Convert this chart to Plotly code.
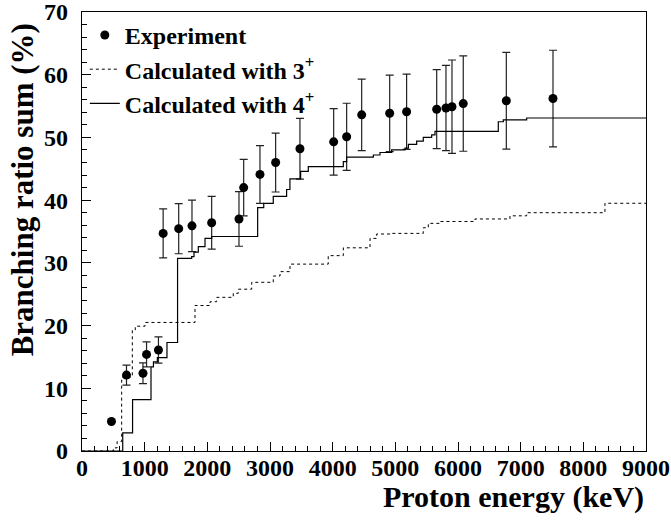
import plotly.graph_objects as go

# Experimental data
exp_energy = [470, 710, 973, 1030, 1220, 1295, 1543, 1755, 2069, 2505, 2580, 2840, 3090,
              3478, 4016, 4223, 4463, 4910, 5180, 5660, 5808, 5904, 6084, 6771, 7516]
exp_ratio = [4.7, 12.1, 12.4, 15.4, 16.1, 34.7, 35.45, 35.9, 36.4, 37.0, 42.0, 44.1, 46.0,
             48.2, 49.3, 50.1, 53.6, 53.85, 54.1, 54.5, 54.7, 54.9, 55.4, 55.85, 56.2]
exp_err = [0, 1.6, 1.65, 2.0, 2.1, 3.9, 4.0, 4.1, 4.2, 4.35, 4.5, 4.6, 4.7,
           4.85, 5.3, 5.35, 5.7, 6.1, 6.0, 6.3, 6.8, 7.45, 7.6, 7.7, 7.7]

# Calculated with 3+ (step edges and levels)
calc3_energy = [0, 500, 560, 633, 803, 850, 1005, 1803, 2043, 2149, 2414, 2494, 2708,
                3052, 3160, 3319, 3929, 4170, 4596, 4702, 4942, 5446, 5526, 5712,
                6271, 6829, 7096, 8345, 9000]
calc3_ratio = [0, 0.5, 1.5, 11.8, 19.3, 19.9, 20.5, 23.2, 23.8, 24.5, 25.15, 25.8, 26.9,
               27.9, 28.6, 29.8, 31.15, 32.4, 33.9, 34.6, 34.7, 35.6, 36.3, 36.6,
               37.0, 37.5, 38.0, 39.5, 39.5]

# Calculated with 4+
calc4_energy = [0, 650, 807, 1101, 1140, 1202, 1356, 1525, 1750, 1787, 1856, 1963, 2069,
                2803, 2900, 3052, 3265, 3318, 3489, 3611, 4170, 4223, 4649, 4755, 4941,
                5154, 5208, 5340, 5446, 5580, 5633, 6643, 6723, 7096, 9000]
calc4_ratio = [0, 2.9, 8.2, 13.4, 14.2, 14.9, 17.3, 30.7, 31.0, 31.7, 32.6, 33.9, 34.2,
               38.8, 39.5, 40.6, 41.7, 43.4, 44.6, 45.35, 46.15, 46.85, 47.2, 47.6, 48.0,
               48.3, 48.9, 49.4, 50.0, 50.4, 50.95, 52.5, 52.8, 53.1, 53.1]

x_ticks = [0, 1000, 2000, 3000, 4000, 5000, 6000, 7000, 8000, 9000]
y_ticks = [0, 10, 20, 30, 40, 50, 60, 70]

FONT = "Liberation Serif"

fig = go.Figure()
fig.add_trace(go.Scatter(
    x=exp_energy, y=exp_ratio, mode="markers", name="Experiment",
    marker=dict(color="black", size=9),
    error_y=dict(type="data", array=exp_err, color="#222222", thickness=1.2, width=4),
))
fig.add_trace(go.Scatter(
    x=calc3_energy, y=calc3_ratio, mode="lines", name="Calculated with 3<sup>+</sup>",
    line=dict(color="black", width=1, dash="3px,3px", shape="hv"),
))
fig.add_trace(go.Scatter(
    x=calc4_energy, y=calc4_ratio, mode="lines", name="Calculated with 4<sup>+</sup>",
    line=dict(color="black", width=1.2, shape="hv"),
))

axis_common = dict(
    showline=True, linecolor="black", linewidth=1.2, mirror=True, automargin=False,
    showgrid=False, zeroline=False, ticks="inside", tickcolor="black",
    ticklabeloverflow="allow",
    tickfont=dict(family=FONT, size=24, color="black", weight="bold"),
)
fig.update_xaxes(
    range=[0, 9000], tickvals=x_ticks, ticktext=[str(v) for v in x_ticks],
    ticklen=9, tickwidth=1, ticklabelstandoff=-5,
    minor=dict(dtick=200, ticks="inside", ticklen=5, tickcolor="black", tickwidth=1),
    **axis_common,
)
fig.update_yaxes(
    range=[0, 70], tickvals=y_ticks, ticktext=[str(v) for v in y_ticks],
    ticklen=9, tickwidth=1, ticklabelstandoff=8,
    minor=dict(dtick=2, ticks="inside", ticklen=5, tickcolor="black", tickwidth=1),
    **axis_common,
)

fig.update_layout(
    width=671, height=523,
    margin=dict(l=82, r=25, t=12, b=72, autoexpand=False),
    paper_bgcolor="white", plot_bgcolor="white",
    showlegend=True,
    legend=dict(x=0.005, y=0.998, xanchor="left", yanchor="top",
                bgcolor="rgba(0,0,0,0)", borderwidth=0,
                font=dict(family=FONT, size=24, color="black", weight="bold")),
    annotations=[
        dict(text="Proton energy (keV)", xref="paper", yref="paper",
             x=1.0, y=-0.105, xanchor="right", yanchor="middle", showarrow=False,
             font=dict(family=FONT, size=30, color="black", weight="bold")),
        dict(text="Branching ratio sum (%)", xref="paper", yref="paper",
             x=-0.106, y=0.978, xanchor="center", yanchor="top", textangle=-90,
             showarrow=False,
             font=dict(family=FONT, size=31, color="black", weight="bold")),
    ],
)

# Remove the default 8px page margin so the figure fills the window exactly.
fig.write_html("out.html", config={"displayModeBar": False},
               post_script="document.body.style.margin='0';")
